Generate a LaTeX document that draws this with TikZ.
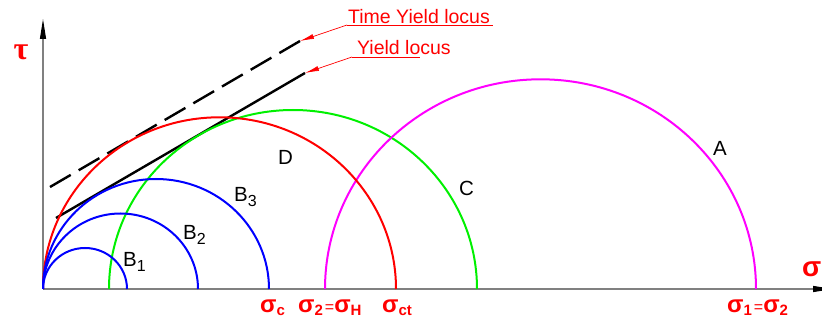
\documentclass[tikz,border=0pt]{standalone}
\usepackage{fontspec}
\setmainfont{Liberation Sans}
\newfontfamily\grserif{Liberation Serif}
\usetikzlibrary{arrows.meta}
\definecolor{cred}{RGB}{255,0,0}
\definecolor{cgreen}{RGB}{0,240,0}
\definecolor{cblue}{RGB}{0,0,255}
\definecolor{cmag}{RGB}{255,0,255}
\definecolor{caxis}{RGB}{128,128,128}
\newcommand\sigbig{{\fontsize{24}{24}\selectfont\bfseries σ}}
\newcommand\subtx[1]{\raisebox{-2pt}{\fontsize{15}{15}\selectfont\bfseries #1}}
\newcommand\eqtx{{\hspace{2pt}\fontsize{16}{16}\selectfont=}}
\tikzset{
  axisline/.style={draw=caxis, line width=1.1pt, -{Triangle[length=20pt,width=6pt,color=black]}},
  mohr/.style={line width=2pt},
  yieldline/.style={draw=black, line width=2.4pt},
  leader/.style={draw=cred, line width=0.7pt},
  leaderarrow/.style={draw=cred, line width=0.7pt, -{Latex[length=14pt,width=5pt,color=cred]}},
  caption/.style={text=cred, inner sep=0pt, font=\fontsize{19.5}{19.5}\selectfont},
  sigmalabel/.style={text=cred, inner sep=0pt, anchor=base west},
  circlabel/.style={text=black, inner sep=0pt, anchor=base west, font=\fontsize{20.5}{20.5}\selectfont},
}
\begin{document}
\begin{tikzpicture}[x=1pt,y=-1pt]
\useasboundingbox (0,0) rectangle (822,320);
\clip (0,0) rectangle (822,320);
% axes
\coordinate (O) at (43,289);
\coordinate (ytip) at (43,19);
\coordinate (xtip) at (833,289);
\draw[axisline] (O) -- (ytip);
\draw[axisline] (O) -- (xtip);
% yield loci
\coordinate (ys) at (56,218);
\coordinate (ye) at (305,73);
\coordinate (ts) at (50,187);
\coordinate (te) at (300,41);
\draw[yieldline] (ys) -- (ye);
\draw[yieldline, dash pattern=on 24pt off 9.2pt] (ts) -- (te);
% Mohr circles
\draw[mohr, draw=cgreen] (109,289) arc[start angle=180, end angle=0, x radius=184pt, y radius=179pt];
\draw[mohr, draw=cmag] (325,289) arc[start angle=180, end angle=0, x radius=215.5pt, y radius=209.7pt];
\draw[mohr, draw=cred] (43,289) arc[start angle=180, end angle=0, x radius=176.5pt, y radius=171.7pt];
\draw[mohr, draw=cblue] (43,289) arc[start angle=180, end angle=0, x radius=42pt, y radius=41pt];
\draw[mohr, draw=cblue] (43,289) arc[start angle=180, end angle=0, x radius=77.5pt, y radius=75.5pt];
\draw[mohr, draw=cblue] (43,289) arc[start angle=180, end angle=0, x radius=113pt, y radius=110pt];
% captions with leaders
\node[caption, anchor=base west] (tyl) at (348,24) {Time Yield locus};
\node[caption, anchor=base west] (yl) at (357,55) {Yield locus};
\coordinate (tu1) at (347,25);
\coordinate (tu2) at (493,25);
\coordinate (yu1) at (352,57);
\coordinate (yu2) at (420,57);
\draw[leader] (tu1) -- (tu2);
\draw[leader] (yu1) -- (yu2);
\draw[leaderarrow] (tu1) -- (te);
\draw[leaderarrow] (yu1) -- (ye);
% axis labels
\node[text=cred, inner sep=0pt, anchor=center, font=\grserif\bfseries\fontsize{32}{32}\selectfont] (tau) at (21,52) {τ};
\node[text=cred, inner sep=0pt, anchor=base west, font=\bfseries\fontsize{28}{28}\selectfont] (sig) at (802,277) {σ};
% circle labels
\node[circlabel] (b1) at (123,267) {B\raisebox{-5pt}{\fontsize{16}{16}\selectfont 1}};
\node[circlabel] (b2) at (183,240) {B\raisebox{-5pt}{\fontsize{16}{16}\selectfont 2}};
\node[circlabel] (b3) at (234,202) {B\raisebox{-5pt}{\fontsize{16}{16}\selectfont 3}};
\node[circlabel] (d) at (278,165) {D};
\node[circlabel] (c) at (459,196) {C};
\node[circlabel] (a) at (713,156) {A};
% sigma labels
\node[sigmalabel] (sc) at (260,313) {\sigbig\subtx{c}};
\node[sigmalabel] (s2h) at (298,313) {\sigbig\subtx{2}\eqtx\sigbig\subtx{H}};
\node[sigmalabel] (sct) at (382,313) {\sigbig\subtx{ct}};
\node[sigmalabel] (s12) at (727,313) {\sigbig\subtx{1}\eqtx\sigbig\subtx{2}};
\end{tikzpicture}
\end{document}
